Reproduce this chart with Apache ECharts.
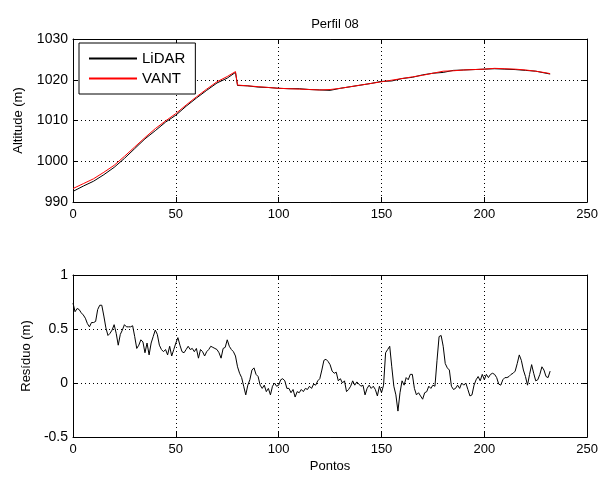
<!DOCTYPE html>
<html>
<head>
<meta charset="utf-8">
<script src="https://cdn.jsdelivr.net/npm/echarts@6/dist/echarts.min.js"></script>
<style>html,body{margin:0;padding:0;background:#fff}#c{width:601px;height:477px}</style>
</head>
<body>
<div id="c"></div>
<script>
const titleText = 'Perfil 08';
const topX = [0,5,10,15,20,25,30,35,40,45,50,55,60,65,70,75,79,80,85,90,95,100,105,110,115,120,125,130,135,140,145,150,155,160,165,170,175,180,185,190,195,200,205,210,215,220,225,230,232];
const vant = [993.3,994.5,995.7,997.3,999.0,1001.2,1003.5,1005.8,1008.0,1009.9,1011.7,1013.8,1015.8,1017.7,1019.5,1020.8,1022.0,1018.7,1018.5,1018.3,1018.1,1017.9,1017.8,1017.7,1017.6,1017.5,1017.6,1017.9,1018.3,1018.7,1019.1,1019.5,1019.9,1020.3,1020.7,1021.1,1021.6,1022.1,1022.2,1022.4,1022.5,1022.6,1022.8,1022.7,1022.6,1022.4,1022.1,1021.7,1021.5];
const lidar = [992.6,993.9,995.1,996.7,998.5,1000.7,1003.1,1005.5,1007.5,1009.6,1011.3,1013.5,1015.5,1017.4,1019.2,1020.4,1021.8,1018.6,1018.5,1018.2,1018.1,1017.9,1017.8,1017.8,1017.6,1017.5,1017.4,1017.9,1018.3,1018.7,1019.1,1019.6,1019.7,1020.3,1020.6,1021.2,1021.6,1021.8,1022.3,1022.4,1022.5,1022.6,1022.7,1022.6,1022.5,1022.3,1022.1,1021.6,1021.4];
const residuo = [
.74,.66,.69,.68,.65,.63,.60,.55,.52,.56,
.56,.57,.68,.72,.72,.62,.51,.44,.46,.49,
.54,.46,.35,.45,.49,.54,.52,.52,.52,.53,
.43,.32,.35,.40,.38,.28,.37,.26,.37,.43,
.49,.45,.35,.31,.29,.31,.26,.34,.25,.31,
.37,.42,.35,.29,.28,.31,.34,.31,.32,.29,
.32,.23,.31,.29,.25,.29,.31,.34,.33,.32,
.31,.28,.23,.32,.33,.40,.34,.31,.29,.25,
.15,.09,.05,-.03,-.11,-.02,.03,.12,.14,.08,
.06,-.02,-.05,-.02,-.08,-.05,-.11,-.03,0,-.03,
-.02,.03,.04,.02,-.05,-.05,-.09,-.06,-.13,-.08,
-.09,-.06,-.08,-.05,-.06,-.03,-.05,-.01,-.02,.02,
.04,.12,.21,.22,.20,.17,.11,.09,.10,.02,
.04,0,.02,-.08,-.06,-.03,.02,-.02,.01,-.01,
-.03,-.02,-.11,-.05,-.02,-.05,-.03,-.06,-.12,-.03,
-.09,-.02,.28,.31,.34,.15,-.03,-.11,-.26,-.09,
.02,-.02,.05,.03,.08,.08,-.05,-.11,-.09,-.12,
-.15,-.09,-.08,-.03,-.05,-.02,-.03,.21,.43,.44,
.34,.18,.14,.12,-.03,-.06,-.05,-.02,-.05,0,
-.02,0,-.06,-.12,-.11,-.02,.03,.06,.02,.08,
.03,.08,.05,.08,.09,.08,.05,-.01,-.02,.03,
.05,.05,.06,.08,.09,.11,.18,.26,.21,.12,
.06,-.02,.08,.17,.09,.02,.03,.08,.15,.12,
.06,.05,.11];

const FONT = 'Liberation Sans, Arial, sans-serif';
const chart = echarts.init(document.getElementById('c'), null, {renderer:'canvas'});
const gridLine = {show:true, lineStyle:{color:'#000', type:[1,3], width:1}};
const axLine = {show:true, onZero:false, lineStyle:{color:'#000', width:1}};
const tick = {show:true, inside:true, length:5, lineStyle:{color:'#000'}};
const lbl = {color:'#000', fontFamily:FONT, fontSize:13, formatter:(v)=>String(v)};

function xAx(gi, name){
  return [{
    type:'value', gridIndex:gi, min:0, max:250, interval:50, position:'bottom',
    axisLine:axLine, axisTick:tick, splitLine:gridLine,
    axisLabel:Object.assign({margin:6}, lbl),
    name:name||'', nameLocation:'middle', nameGap:23,
    nameTextStyle:{color:'#000', fontFamily:FONT, fontSize:13}
  },{
    type:'value', gridIndex:gi, min:0, max:250, interval:50, position:'top',
    axisLine:axLine, axisTick:tick, splitLine:{show:false}, axisLabel:{show:false}
  }];
}
function yAx(gi, min, max, interval, name, gap){
  return [{
    type:'value', gridIndex:gi, min:min, max:max, interval:interval, position:'left',
    axisLine:axLine, axisTick:tick, splitLine:gridLine,
    axisLabel:Object.assign({margin:5}, lbl, {fontSize:14}),
    name:name, nameLocation:'middle', nameGap:gap,
    nameTextStyle:{color:'#000', fontFamily:FONT, fontSize:13}
  },{
    type:'value', gridIndex:gi, min:min, max:max, interval:interval, position:'right',
    axisLine:axLine, axisTick:tick, splitLine:{show:false}, axisLabel:{show:false}
  }];
}

chart.setOption({
  animation:false,
  backgroundColor:'#fff',
  title:{text:titleText, left:330, textAlign:'center', top:13,
    textStyle:{color:'#000', fontFamily:FONT, fontSize:13, fontWeight:'normal'}},
  legend:{
    orient:'vertical', left:79, top:43, padding:[8,10,8,10],
    backgroundColor:'#fff', borderColor:'#000', borderWidth:1, borderRadius:0,
    itemWidth:48, itemHeight:2, itemGap:5, icon:'rect',
    textStyle:{color:'#000', fontFamily:FONT, fontSize:15},
    data:['LiDAR','VANT']
  },
  grid:[
    {left:73, right:13, top:39, height:163},
    {left:73, right:13, top:275, height:162}
  ],
  xAxis:[...xAx(0), ...xAx(1,'Pontos')],
  yAxis:[...yAx(0,990,1030,10,'Altitude (m)',48), ...yAx(1,-0.5,1,0.5,'Resíduo (m)',38)],
  series:[
    {name:'LiDAR', type:'line', xAxisIndex:0, yAxisIndex:0, symbol:'none',
      lineStyle:{color:'#000', width:1}, itemStyle:{color:'#000'},
      data:topX.map((x,i)=>[x,lidar[i]]), z:2},
    {name:'VANT', type:'line', xAxisIndex:0, yAxisIndex:0, symbol:'none',
      lineStyle:{color:'#ff0000', width:1}, itemStyle:{color:'#ff0000'},
      data:topX.map((x,i)=>[x,vant[i]]), z:3},
    {name:'Resíduo', type:'line', xAxisIndex:2, yAxisIndex:2, symbol:'none',
      lineStyle:{color:'#000', width:1}, itemStyle:{color:'#000'},
      data:residuo.map((v,i)=>[i,v])}
  ]
});
</script>
</body>
</html>
